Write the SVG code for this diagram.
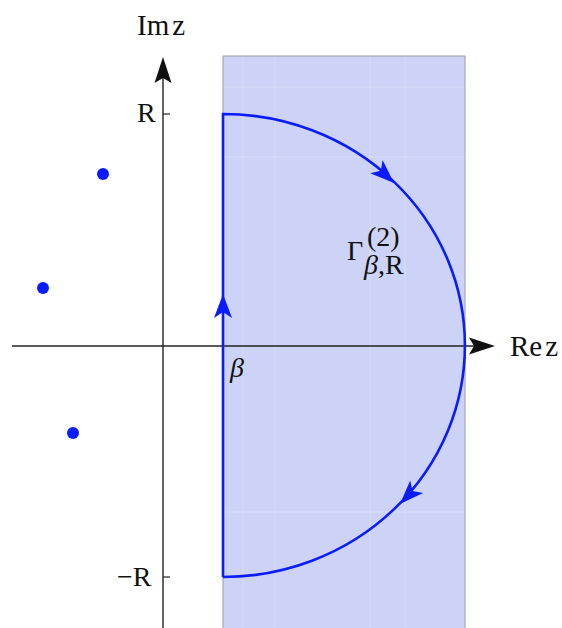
<svg xmlns="http://www.w3.org/2000/svg" width="562" height="628" viewBox="0 0 562 628">
<defs>
<style>
.axis{stroke:#222;stroke-width:1.4;fill:none}
.tick{stroke:#222;stroke-width:1.2}
.contour{stroke:#0a1cff;stroke-width:2.6;fill:none}
.lbl{font-family:"Liberation Serif","Times New Roman",serif;font-size:29px;fill:#111}
.tl{font-family:"Liberation Serif","Times New Roman",serif;font-size:28px;fill:#111}
.grid{stroke:#ffffff;stroke-opacity:0.2;stroke-width:1}
</style>
<path id="ah" d="M0,0 L-24,-9 L-18,0 L-24,9 Z"/>
<path id="axah" d="M0,0 L-26,-8.5 L-21,0 L-26,8.5 Z"/>
</defs>
<rect width="562" height="628" fill="#ffffff"/>
<g id="region">
<rect x="223" y="56" width="242" height="580" fill="#ccd3f6" stroke="#9a9aa8" stroke-width="1"/>
<g class="grid">
<line x1="243" y1="56" x2="243" y2="628"/>
<line x1="275" y1="56" x2="275" y2="628"/>
<line x1="370" y1="56" x2="370" y2="628"/>
<line x1="405" y1="56" x2="405" y2="628"/>
<line x1="223" y1="87" x2="465" y2="87"/>
<line x1="223" y1="157" x2="465" y2="157"/>
<line x1="223" y1="512" x2="465" y2="512"/>
</g>
</g>
<g id="connectors">
<line class="axis" x1="163" y1="628" x2="163" y2="62"/>
<use href="#axah" fill="#111" transform="translate(163,57) rotate(-90)"/>
<line class="axis" x1="12" y1="346" x2="488" y2="346"/>
<use href="#axah" fill="#111" transform="translate(495,346)"/>
<line class="tick" x1="163" y1="114" x2="170" y2="114"/>
<line class="tick" x1="163" y1="577" x2="170" y2="577"/>
<line class="tick" x1="223" y1="346" x2="223" y2="340"/>
</g>
<g id="contour">
<path class="contour" d="M223,577 L223,114 A242,231.5 0 0 1 223,577"/>
<use href="#ah" fill="#0a1cff" transform="translate(223,294) rotate(-90)"/>
<use href="#ah" fill="#0a1cff" transform="translate(394,183) rotate(43)"/>
<use href="#ah" fill="#0a1cff" transform="translate(400,504) rotate(134)"/>
</g>
<g id="poles" fill="#0a1cff">
<circle cx="103" cy="174" r="6"/>
<circle cx="43" cy="288" r="6"/>
<circle cx="73" cy="433" r="6"/>
</g>
<g id="labels">
<text class="lbl" x="137" y="35">Im<tspan dx="3">z</tspan></text>
<text class="lbl" x="510" y="356">Re<tspan dx="3">z</tspan></text>
<text class="tl" x="137" y="122">R</text>
<text class="tl" x="117" y="586">−R</text>
<text class="tl" x="230" y="377" font-style="italic">β</text>
<text class="tl" x="347" y="260">Γ</text>
<text class="tl" x="367" y="246" font-size="19px">(2)</text>
<text class="tl" x="364" y="274" font-size="19px"><tspan font-style="italic">β</tspan>,R</text>
</g>
</svg>
